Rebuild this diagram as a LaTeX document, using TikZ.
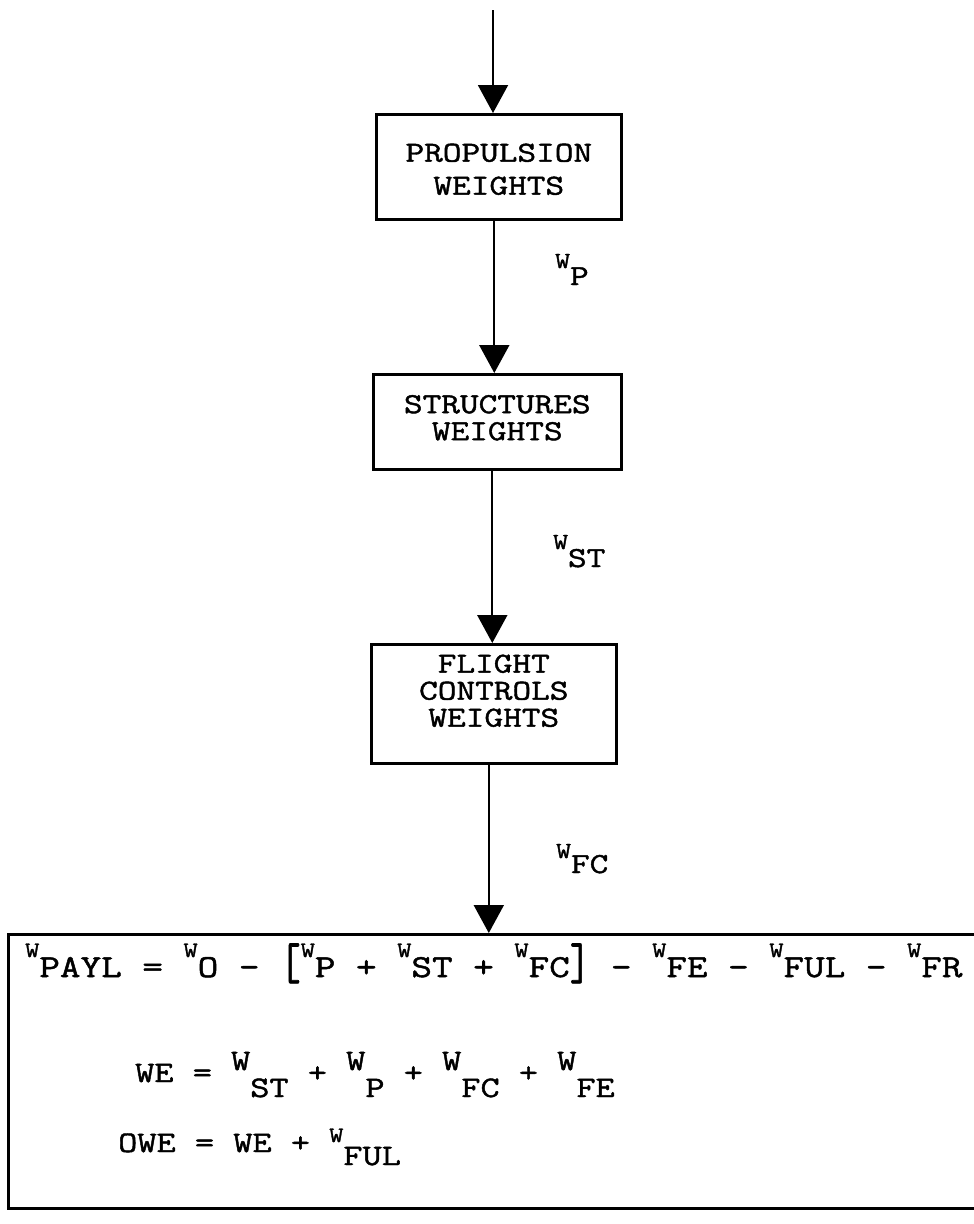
\documentclass[tikz,border=0pt]{standalone}
\usepackage{fontspec}
\usepackage{graphicx}
\usetikzlibrary{arrows.meta}
\newfontfamily\tw{Latin Modern Mono}[FakeStretch=1.25,FakeBold=1.5]
% small raised W followed by subscript text
\newcommand{\Wr}[3]{\raisebox{#1}{\fontsize{#2}{#2}\selectfont W}#3}
% full-size raised W and lowered subscript
\newcommand{\Wd}[3]{\raisebox{#1}{W}\raisebox{#2}{#3}}
\newcommand{\Wa}[1]{\Wr{20pt}{22}{#1}}
\newcommand{\Wb}[1]{\Wd{12pt}{-15pt}{#1}}
\newcommand{\lbrk}{\raisebox{-2pt}{\scalebox{1}[1.6]{[}}}
\newcommand{\rbrk}{\raisebox{-2pt}{\scalebox{1}[1.6]{]}}}
\begin{document}
\begin{tikzpicture}[x=1pt,y=-1pt,
  box/.style={draw, line width=2.6pt, inner sep=0pt},
  flow/.style={line width=2pt, -{Triangle[width=30pt,length=28pt]}},
  boxtexta/.style={font=\tw\fontsize{29}{33}\selectfont, align=center},
  boxtextb/.style={font=\tw\fontsize{29}{27}\selectfont, align=center},
  lab/.style={font=\tw\fontsize{29}{33}\selectfont, anchor=base west, inner sep=0pt},
  eqa/.style={font=\tw\fontsize{32}{36}\selectfont, anchor=base west, inner sep=0pt},
  eqb/.style={font=\tw\fontsize{29.8}{34}\selectfont, anchor=base west, inner sep=0pt}]
\fill[white] (0,0) rectangle (974,1224);
\useasboundingbox (0,0) rectangle (974,1224);
\clip (0,0) rectangle (974,1224);

% boxes
\node[box, minimum width=245pt, minimum height=105pt, anchor=north west,
  label={[boxtexta, yshift=-2.5pt]center:PROPULSION\\WEIGHTS}] (b1) at (375,113) {};
\node[box, minimum width=248pt, minimum height=95pt, anchor=north west,
  label={[boxtextb, yshift=4pt]center:STRUCTURES\\WEIGHTS}] (b2) at (372,373) {};
\node[box, minimum width=245pt, minimum height=119pt, anchor=north west,
  label={[boxtextb, yshift=13pt]center:FLIGHT\\CONTROLS\\WEIGHTS}] (b3) at (370,643) {};
\node[box, minimum width=1100pt, minimum height=274pt, anchor=north west] (b4) at (7,933) {};

% connectors
\coordinate (src) at (493,10);
\draw[flow] (src) -- (src |- b1.north);
\draw[flow] ([xshift=-4.5pt]b1.south) -- ([xshift=-4.5pt]b1.south |- b2.north);
\draw[flow] ([xshift=-5pt]b2.south) -- ([xshift=-5pt]b2.south |- b3.north);
\draw[flow] ([xshift=-5pt]b3.south) -- ([xshift=-5pt]b3.south |- b4.north);

% connector labels
\node[lab] (wp) at (555,285) {\Wr{17pt}{23}{P}};
\node[lab] (wst) at (553,567) {\Wr{18pt}{23}{ST}};
\node[lab] (wfc) at (556,873) {\Wr{15pt}{23}{FC}};

% equations
\node[eqa] (eq1) at (25,977) {\Wa{PAYL} = \Wa{O} - \lbrk\Wa{P} + \Wa{ST} + \Wa{FC}\rbrk{} - \Wa{FE} - \Wa{FUL} - \Wa{FR}};
\node[eqb] (eq2) at (135,1082) {WE = \Wb{ST} + \Wb{P} + \Wb{FC} + \Wb{FE}};
\node[eqb] (eq3) at (118,1152) {OWE = WE + \Wr{10pt}{22}{\raisebox{-13pt}{FUL}}};
\end{tikzpicture}
\end{document}
